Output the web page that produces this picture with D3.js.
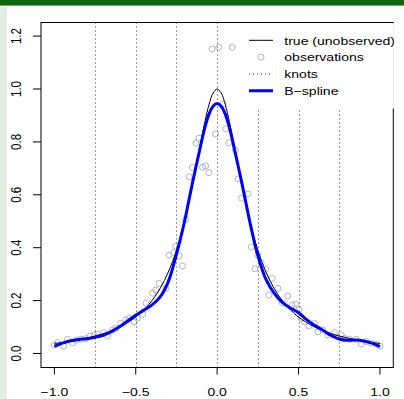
<!DOCTYPE html>
<html>
<head>
<meta charset="utf-8">
<script src="https://cdn.jsdelivr.net/npm/d3@7"></script>
<style>
  body { margin: 0; background: #fff; }
  svg { display: block; font-family: "Liberation Sans", Arial, sans-serif; }
</style>
</head>
<body>
<div id="chart"></div>
<script>
// --- data ---
const knots = [-0.75, -0.5, -0.25, 0, 0.25, 0.5, 0.75];
const xTicks = [-1, -0.5, 0, 0.5, 1];
const yTicks = [0, 0.2, 0.4, 0.6, 0.8, 1.0, 1.2];

const gridX = [-1, -0.95, -0.9, -0.85, -0.8, -0.75, -0.7, -0.65, -0.6, -0.55, -0.5, -0.45, -0.4, -0.35, -0.3, -0.25, -0.2,
  -0.175, -0.15, -0.125, -0.1, -0.075, -0.05, -0.025, 0, 0.025, 0.05, 0.075, 0.1, 0.125, 0.15, 0.175,
  0.2, 0.25, 0.3, 0.35, 0.4, 0.45, 0.5, 0.55, 0.6, 0.65, 0.7, 0.75, 0.8, 0.85, 0.9, 0.95, 1];
const trueY = [0.038, 0.042, 0.047, 0.052, 0.059, 0.066, 0.075, 0.086, 0.100, 0.117, 0.138, 0.165, 0.200, 0.246, 0.308, 0.390, 0.500,
  0.566, 0.640, 0.719, 0.800, 0.877, 0.941, 0.985, 1.000, 0.985, 0.941, 0.877, 0.800, 0.719, 0.640, 0.566,
  0.500, 0.390, 0.308, 0.246, 0.200, 0.165, 0.138, 0.117, 0.100, 0.086, 0.075, 0.066, 0.059, 0.052, 0.047, 0.042, 0.038];
const splineY = [0.027, 0.039, 0.048, 0.053, 0.056, 0.061, 0.069, 0.083, 0.101, 0.123, 0.145, 0.164, 0.184, 0.214, 0.272, 0.375, 0.500,
  0.575, 0.650, 0.720, 0.790, 0.855, 0.905, 0.935, 0.945, 0.935, 0.905, 0.855, 0.790, 0.720, 0.650, 0.575,
  0.500, 0.370, 0.280, 0.228, 0.193, 0.172, 0.154, 0.128, 0.106, 0.088, 0.068, 0.055, 0.050, 0.051, 0.047, 0.039, 0.026];

const obsX = [-1.0, -0.98, -0.943, -0.919, -0.888, -0.862, -0.837, -0.807, -0.78, -0.755, -0.735, -0.698, -0.673, -0.643, -0.622,
  -0.592, -0.561, -0.541, -0.51, -0.489, -0.458, -0.438, -0.397, -0.377, -0.356, -0.315, -0.295, -0.268, -0.254, -0.233, -0.213,
  -0.192, -0.172, -0.153, -0.131, -0.112, -0.09, -0.071, -0.051, -0.031, -0.01, 0.01, 0.037, 0.052, 0.072, 0.092, 0.113, 0.129,
  0.15, 0.19, 0.21, 0.232, 0.25, 0.27, 0.297, 0.318, 0.338, 0.373, 0.4, 0.434, 0.461, 0.482, 0.502, 0.516, 0.537, 0.563, 0.598,
  0.619, 0.649, 0.68, 0.721, 0.762, 0.783, 0.813, 0.854, 0.885, 0.915, 0.946, 0.977, 1.0];
const obsY = [0.032, 0.041, 0.028, 0.054, 0.041, 0.051, 0.054, 0.056, 0.066, 0.07, 0.074, 0.079, 0.066, 0.089, 0.095,
  0.114, 0.127, 0.133, 0.12, 0.133, 0.149, 0.19, 0.228, 0.24, 0.265, 0.246, 0.372, 0.381, 0.406, 0.369, 0.331,
  0.507, 0.668, 0.704, 0.795, 0.814, 0.704, 0.709, 0.684, 1.151, 0.83, 1.158, 0.943, 0.849, 0.797, 1.158, 0.769, 0.66,
  0.587, 0.603, 0.403, 0.32, 0.372, 0.343, 0.318, 0.221, 0.284, 0.246, 0.192, 0.217, 0.183, 0.187, 0.167, 0.133, 0.12, 0.104, 0.114,
  0.082, 0.089, 0.07, 0.079, 0.07, 0.057, 0.054, 0.054, 0.036, 0.045, 0.039, 0.036, 0.028];

const legendLabels = ["true (unobserved)", "observations", "knots", "B\u2212spline"];

// --- layout ---
const W = 404, H = 399;
const plot = { left: 41, right: 393.3, top: 22.5, bottom: 367.5 };
const sx = 1.22;      // picture is stretched a little sideways
const fs = 11.5;

const svg = d3.select("#chart").append("svg").attr("width", W).attr("height", H);

// page chrome (green header bar and side strip)
svg.append("rect").attr("x", 0).attr("y", 0).attr("width", W).attr("height", 5).attr("fill", "#0b690b");
svg.append("rect").attr("x", 0).attr("y", 5).attr("width", W).attr("height", 1).attr("fill", "#6fa86f");
svg.append("rect").attr("x", 0).attr("y", 7).attr("width", 7).attr("height", H - 7).attr("fill", "#e3ede3");

const x = d3.scaleLinear().domain([-1.082, 1.082]).range([plot.left, plot.right]);
const y = d3.scaleLinear().domain([-0.0529, 1.2514]).range([plot.bottom, plot.top]);

function label(g, tx, ty, str, anchor, rot) {
  g.append("text")
    .attr("transform", `translate(${tx},${ty}) scale(${sx},1)` + (rot ? ` rotate(${rot})` : ""))
    .attr("text-anchor", anchor)
    .attr("font-size", fs)
    .attr("fill", "#000")
    .text(str);
}

// observations
svg.append("g").selectAll("circle")
  .data(obsX.map((d, i) => [d, obsY[i]]))
  .join("circle")
  .attr("cx", d => x(d[0]))
  .attr("cy", d => y(d[1]))
  .attr("r", 3)
  .attr("fill", "none")
  .attr("stroke", "#b5b5b5")
  .attr("stroke-width", 1);

const line = d3.line().x(d => x(d[0])).y(d => y(d[1])).curve(d3.curveCatmullRom.alpha(0.5));

// true curve
svg.append("path")
  .attr("d", line(gridX.map((d, i) => [d, trueY[i]])))
  .attr("fill", "none").attr("stroke", "#000").attr("stroke-width", 1);

// knots
svg.append("g").selectAll("line")
  .data(knots)
  .join("line")
  .attr("x1", d => Math.round(x(d)) + 0.5).attr("x2", d => Math.round(x(d)) + 0.5)
  .attr("y1", plot.top).attr("y2", plot.bottom)
  .attr("stroke", "#333").attr("stroke-width", 1).attr("stroke-dasharray", "1,3");

// B-spline fit
svg.append("path")
  .attr("d", line(gridX.map((d, i) => [d, splineY[i]])))
  .attr("fill", "none").attr("stroke", "#0000ff").attr("stroke-width", 3)
  .attr("stroke-linejoin", "round");

// frame
svg.append("rect")
  .attr("x", plot.left).attr("y", plot.top)
  .attr("width", plot.right - plot.left).attr("height", plot.bottom - plot.top)
  .attr("fill", "none").attr("stroke", "#000").attr("stroke-width", 1);

// axes
const xAxis = svg.append("g");
xAxis.selectAll("line").data(xTicks).join("line")
  .attr("x1", d => x(d)).attr("x2", d => x(d))
  .attr("y1", plot.bottom).attr("y2", plot.bottom + 7)
  .attr("stroke", "#000");
xTicks.forEach(d => label(xAxis, x(d), 396, d3.format(".1f")(d).replace("-", "\u2212"), "middle"));

const yAxis = svg.append("g");
yAxis.selectAll("line").data(yTicks).join("line")
  .attr("x1", plot.left - 8).attr("x2", plot.left)
  .attr("y1", d => y(d)).attr("y2", d => y(d))
  .attr("stroke", "#000");
yTicks.forEach(d => label(yAxis, 20.7, y(d), d3.format(".1f")(d), "middle", -90));

// legend (white box, clipped to the plot region)
svg.append("clipPath").attr("id", "plotclip")
  .append("rect").attr("x", plot.left).attr("y", plot.top - 1)
  .attr("width", plot.right - plot.left + 0.6).attr("height", plot.bottom - plot.top + 1);

const leg = svg.append("g").attr("clip-path", "url(#plotclip)");
leg.append("rect").attr("x", 246).attr("y", plot.top + 0.6).attr("width", 160).attr("height", 85.5).attr("fill", "#fff");

const rowY = [40.3, 57.2, 74, 90.7];
leg.append("line").attr("x1", 249).attr("x2", 273).attr("y1", rowY[0]).attr("y2", rowY[0]).attr("stroke", "#000");
leg.append("circle").attr("cx", 261).attr("cy", rowY[1]).attr("r", 3)
  .attr("fill", "none").attr("stroke", "#b5b5b5");
leg.append("line").attr("x1", 249).attr("x2", 273).attr("y1", rowY[2]).attr("y2", rowY[2])
  .attr("stroke", "#333").attr("stroke-dasharray", "1,3");
leg.append("line").attr("x1", 249).attr("x2", 273).attr("y1", rowY[3]).attr("y2", rowY[3])
  .attr("stroke", "#0000ff").attr("stroke-width", 3);
legendLabels.forEach((t, i) => label(leg, 284.3, rowY[i] + 4.2, t, "start"));
</script>
</body>
</html>
